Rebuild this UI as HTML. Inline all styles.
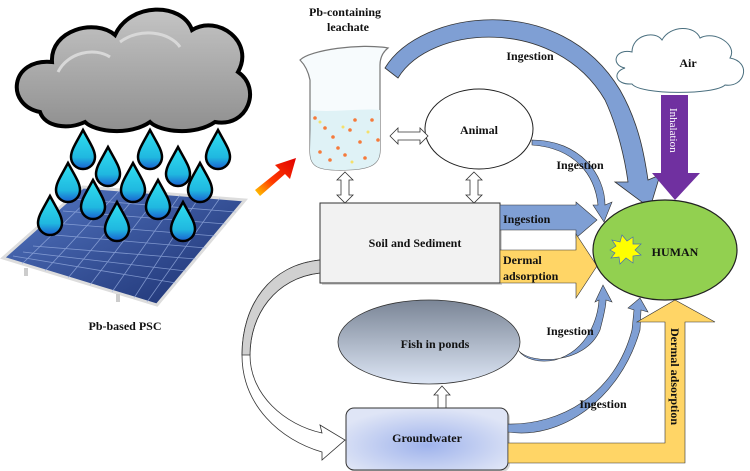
<!DOCTYPE html>
<html><head><meta charset="utf-8"><style>
html,body{margin:0;padding:0;background:#fff;}
svg{display:block;font-family:"Liberation Serif",serif;}
text{font-family:"Liberation Serif",serif;font-weight:bold;fill:#111;}
</style></head><body>
<svg width="750" height="471" viewBox="0 0 750 471" xmlns="http://www.w3.org/2000/svg" font-family="Liberation Serif, serif">
<defs>
<linearGradient id="cl" x1="0" y1="0" x2="0" y2="1"><stop offset="0" stop-color="#c4c4c4"/><stop offset="1" stop-color="#8f8f8f"/></linearGradient>
<linearGradient id="pn" x1="0" y1="0" x2="1" y2="1"><stop offset="0" stop-color="#5578c4"/><stop offset="1" stop-color="#1a2e6e"/></linearGradient>
<linearGradient id="fs" x1="0" y1="0" x2="0" y2="1"><stop offset="0" stop-color="#7a8596"/><stop offset="1" stop-color="#dde6f5"/></linearGradient>
<radialGradient id="gw" cx="0.5" cy="0.6" r="0.6"><stop offset="0" stop-color="#9fb3ec"/><stop offset="1" stop-color="#dfe5f6"/></radialGradient>
<linearGradient id="dr" x1="0" y1="0" x2="0" y2="1"><stop offset="0" stop-color="#30e0f0"/><stop offset="0.7" stop-color="#20b8e0"/><stop offset="1" stop-color="#1a5fd0"/></linearGradient>
<linearGradient id="ra" x1="0" y1="1" x2="1" y2="0"><stop offset="0" stop-color="#ffd100"/><stop offset="0.4" stop-color="#ff3a00"/><stop offset="1" stop-color="#e00000"/></linearGradient>
<path id="d" d="M0,-20 C7,-7 12,0 12,7 A12,12 0 0 1 -12,7 C-12,0 -7,-7 0,-20 Z"/>
</defs>

<!-- cloud -->
<path d="M40,112 C5,105 10,58 52,62 C50,30 95,18 115,35 C130,2 182,2 192,30 C218,14 255,42 238,72 C262,88 248,128 215,122 C195,136 160,132 150,122 C130,136 95,132 85,122 C68,130 45,127 40,112 Z" fill="url(#cl)" stroke="#000" stroke-width="4"/>
<path d="M58,72 C68,52 95,47 110,57 M120,42 C140,27 170,32 180,47" fill="none" stroke="#d8d8d8" stroke-width="3"/>

<!-- solar panel -->
<polygon points="83,187 245,200 157,305 3,258" fill="url(#pn)" stroke="#ddd" stroke-width="3"/>
<g stroke="#9fb5e6" stroke-width="0.8" opacity="0.7">
<line x1="73" y1="199" x2="236" y2="212"/><line x1="63" y1="211" x2="226" y2="224"/><line x1="53" y1="223" x2="216" y2="236"/><line x1="43" y1="234" x2="206" y2="248"/><line x1="33" y1="246" x2="196" y2="259"/><line x1="23" y1="252" x2="186" y2="271"/><line x1="13" y1="256" x2="176" y2="283"/>
<line x1="100" y1="188" x2="22" y2="264"/><line x1="120" y1="190" x2="45" y2="271"/><line x1="140" y1="191" x2="68" y2="278"/><line x1="160" y1="193" x2="90" y2="285"/><line x1="180" y1="195" x2="112" y2="292"/><line x1="200" y1="196" x2="134" y2="298"/><line x1="220" y1="198" x2="147" y2="302"/>
</g>
<rect x="24" y="268" width="4" height="8" fill="#ccc"/><rect x="116" y="294" width="4" height="8" fill="#ccc"/>

<!-- drops -->
<g fill="url(#dr)" stroke="#000" stroke-width="2.5">
<use href="#d" x="83" y="150"/><use href="#d" x="150" y="150"/><use href="#d" x="218" y="150"/>
<use href="#d" x="108" y="167"/><use href="#d" x="178" y="167"/>
<use href="#d" x="68" y="183"/><use href="#d" x="133" y="183"/><use href="#d" x="200" y="183"/>
<use href="#d" x="93" y="200"/><use href="#d" x="158" y="200"/>
<use href="#d" x="50" y="216"/><use href="#d" x="117" y="222"/><use href="#d" x="183" y="222"/>
</g>
<text x="125" y="330" font-size="12" text-anchor="middle">Pb-based PSC</text>

<!-- red arrow -->
<polygon points="255,190 280,170 275,165 296,158 290,179 285,174 260,196" fill="url(#ra)"/>

<!-- beaker -->
<text x="345" y="16" font-size="12" text-anchor="middle">Pb-containing</text>
<text x="348" y="31" font-size="12" text-anchor="middle">leachate</text>
<path d="M300,60 C310,50 360,43 388,48 C383,52 380,58 380,65 L380,150 C380,165 370,170 340,170 C315,170 310,165 310,150 L310,80 C308,70 304,64 300,60 Z" fill="#f7fbfd" stroke="#777" stroke-width="1.2"/>
<path d="M311,110 C330,113 360,108 380,110 L380,150 C380,165 370,170 340,170 C315,170 310,165 310,150 Z" fill="#dff2f6"/>
<g fill="#f57a3a"><circle cx="315" cy="118" r="1.8"/><circle cx="325" cy="128" r="1.8"/><circle cx="333" cy="137" r="1.8"/><circle cx="350" cy="130" r="1.8"/><circle cx="360" cy="142" r="1.8"/><circle cx="372" cy="120" r="1.8"/><circle cx="345" cy="155" r="1.8"/><circle cx="320" cy="152" r="1.8"/><circle cx="365" cy="158" r="1.8"/><circle cx="378" cy="140" r="1.8"/><circle cx="338" cy="148" r="1.8"/><circle cx="355" cy="120" r="1.8"/><circle cx="330" cy="160" r="1.8"/></g>
<g fill="#f5e06a"><circle cx="320" cy="122" r="1.5"/><circle cx="343" cy="127" r="1.5"/><circle cx="368" cy="132" r="1.5"/><circle cx="352" cy="162" r="1.5"/></g>

<!-- big top ingestion arc -->
<path d="M385,68 C420,10 560,-10 620,90 C640,125 645,160 648,180 L660,175 L650,208 L615,182 L628,182 C625,160 618,128 605,100 C555,15 430,25 398,78 Z" fill="#7f9fd4" stroke="#333" stroke-width="0.8"/>
<text x="530" y="60" font-size="12" text-anchor="middle">Ingestion</text>

<!-- air cloud -->
<path d="M625,68 C610,65 615,48 632,52 C632,35 655,30 662,40 C670,25 695,25 700,38 C715,30 738,45 730,58 C752,62 745,88 725,85 C715,95 640,95 632,84 C615,85 612,72 625,68 Z" fill="#fff" stroke="#4a6f7f" stroke-width="1"/>
<text x="688" y="67" font-size="12" text-anchor="middle">Air</text>

<!-- inhalation -->
<polygon points="661,95 688,95 688,173 700,173 675,200 652,173 661,173" fill="#7030a0"/>
<text transform="translate(670,108) rotate(90)" font-size="11" style="fill:#fff;font-weight:normal">Inhalation</text>

<!-- animal -->
<ellipse cx="479" cy="129" rx="54" ry="40" fill="#fff" stroke="#222" stroke-width="1"/>
<text x="479" y="134" font-size="12" text-anchor="middle">Animal</text>
<path d="M532,140 C580,140 605,175 605,205 L612,202 L604,222 L593,205 L598,205 C595,175 575,148 532,145 Z" fill="#7f9fd4" stroke="#333" stroke-width="0.6"/>
<text x="580" y="169" font-size="12" text-anchor="middle">Ingestion</text>

<!-- double arrows -->
<polygon points="390,136 398,128 398,132 420,132 420,128 428,136 420,144 420,140 398,140 398,144" fill="#fff" stroke="#333" stroke-width="0.8"/>
<polygon points="345,172 353,180 349,180 349,195 353,195 345,203 337,195 341,195 341,180 337,180" fill="#fff" stroke="#333" stroke-width="0.8"/>
<polygon points="474,172 482,180 478,180 478,195 482,195 474,203 466,195 470,195 470,180 466,180" fill="#fff" stroke="#333" stroke-width="0.8"/>

<!-- soil box -->
<rect x="322" y="205" width="180" height="80" fill="#999" opacity="0.4"/>
<rect x="320" y="203" width="180" height="80" fill="#f2f2f2" stroke="#333" stroke-width="1"/>
<text x="415" y="247" font-size="12" text-anchor="middle">Soil and Sediment</text>

<!-- soil arrows -->
<polygon points="500,205 576,205 576,202 597,220 576,238 576,230 500,230" fill="#7f9fd4" stroke="#333" stroke-width="0.6"/>
<text x="503" y="223" font-size="12">Ingestion</text>
<polygon points="500,250 576,250 576,234 597,266 576,298 576,283 500,283" fill="#ffd566" stroke="#333" stroke-width="0.6"/>
<text x="503" y="264" font-size="12">Dermal</text>
<text x="503" y="280" font-size="12">adsorption</text>

<!-- grey curved arrow -->
<path d="M320,260 C270,265 242,305 242,355 C242,405 280,440 322,452 L322,460 L345,440 L320,425 L322,433 C285,425 250,395 250,355 C250,315 275,278 320,273 Z" fill="#fff" stroke="#333" stroke-width="0.8"/>
<path d="M320,260 C270,265 242,305 242,355 L250,355 C250,315 275,278 320,273 Z" fill="#d0d0d0" stroke="#333" stroke-width="0.8"/>

<!-- fish -->
<ellipse cx="429" cy="342" rx="91" ry="42" fill="url(#fs)" stroke="#333" stroke-width="0.8"/>
<text x="435" y="348" font-size="12" text-anchor="middle">Fish in ponds</text>
<polygon points="442,386 450,395 446,395 446,408 438,408 438,395 434,395" fill="#fff" stroke="#333" stroke-width="0.8"/>
<path d="M518,350 C530,365 585,365 600,330 C604,315 606,305 606,300 L612,302 L603,285 L595,302 L599,300 C598,315 590,350 555,360 C540,363 525,360 518,350 Z" fill="#7f9fd4" stroke="#333" stroke-width="0.6"/>
<text x="570" y="335" font-size="12" text-anchor="middle">Ingestion</text>

<!-- groundwater -->
<rect x="348" y="410" width="162" height="62" rx="8" fill="#999" opacity="0.4"/>
<rect x="346" y="408" width="162" height="62" rx="8" fill="url(#gw)" stroke="#333" stroke-width="1"/>
<text x="427" y="442" font-size="12" text-anchor="middle">Groundwater</text>
<path d="M508,432 C560,440 620,400 640,330 L641,310 L648,312 L640,298 L628,308 L634,310 L632,330 C615,395 560,425 508,424 Z" fill="#7f9fd4" stroke="#333" stroke-width="0.6"/>
<text x="603" y="408" font-size="12" text-anchor="middle">Ingestion</text>
<polygon points="508,443 665,443 665,322 637,322 675,300 715,322 685,322 685,463 508,463" fill="#ffd566" stroke="#333" stroke-width="0.6"/>
<text transform="translate(671,328) rotate(90)" font-size="12">Dermal adsorption</text>

<!-- human -->
<ellipse cx="665" cy="250" rx="72" ry="50" fill="#92d050" stroke="#222" stroke-width="1.2"/>
<polygon points="610,250 616,246 612,240 620,242 622,235 627,241 633,237 633,244 641,244 635,250 641,255 633,256 633,263 626,258 620,264 619,257 611,258 615,253" fill="#ffff00" stroke="#4a6fb0" stroke-width="0.7"/>
<text x="675" y="256" font-size="12" text-anchor="middle">HUMAN</text>
</svg>
</body></html>
